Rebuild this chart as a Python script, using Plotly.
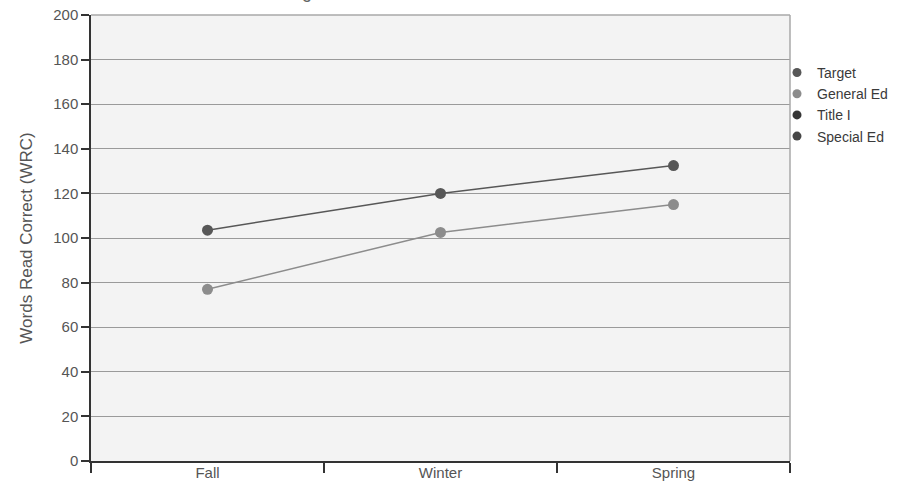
import plotly.graph_objects as go

seasons = ["Fall", "Winter", "Spring"]
series_names = ["Target", "General Ed", "Title I", "Special Ed"]
target = [103.5, 120, 132.5]
general_ed = [77, 102.5, 115]
title_one = [None, None, None]
special_ed = [None, None, None]
y_ticks = [0, 20, 40, 60, 80, 100, 120, 140, 160, 180, 200]

colors = ["#575757", "#8c8c8c", "#353535", "#474747"]
values = [target, general_ed, title_one, special_ed]

fig = go.Figure()
for name, vals, col in zip(series_names, values, colors):
    # the line with its points
    fig.add_trace(go.Scatter(
        x=seasons, y=vals, name=name, mode="lines+markers",
        line=dict(color=col, width=1.5),
        marker=dict(color=col, size=11, symbol="circle"),
        showlegend=False, legendgroup=name,
    ))
    # marker-only key entry
    fig.add_trace(go.Scatter(
        x=[None], y=[None], name=name, mode="markers",
        marker=dict(color=col, size=9, symbol="circle"),
        showlegend=True, legendgroup=name,
    ))

fig.update_layout(
    width=898, height=483,
    margin=dict(l=91, r=108, t=15, b=22, autoexpand=False),
    paper_bgcolor="white",
    plot_bgcolor="#f3f3f3",
    font=dict(family="Liberation Sans, Arial, sans-serif", size=15, color="#555555"),
    showlegend=True,
    legend=dict(
        x=0.9814, y=0.906, xanchor="left", yanchor="top",
        font=dict(size=14, color="#3a3a3a"),
        itemwidth=30, tracegroupgap=0, bgcolor="rgba(0,0,0,0)",
    ),
    annotations=[dict(
        text="Reading Curriculum-Based Measurement Scores",
        xref="paper", yref="paper", x=0.5, y=1, xanchor="center", yanchor="bottom",
        yshift=11, showarrow=False, font=dict(size=18, color="#666666"),
    )],
)

fig.update_xaxes(
    type="category", tickson="boundaries", ticks="outside", ticklen=10,
    tickcolor="#333333", tickwidth=1.5,
    showline=True, linecolor="#333333", linewidth=1.5,
    mirror=False, showgrid=False, zeroline=False,
    ticklabelstandoff=-3, tickfont=dict(size=15, color="#555555"),
    range=[-0.5, 2.5],
)
fig.update_yaxes(
    range=[0, 200], tickvals=y_ticks, ticks="outside", ticklen=8,
    tickcolor="#333333", tickwidth=1.5,
    showline=True, linecolor="#333333", linewidth=1.5,
    showgrid=True, gridcolor="#9a9a9a", gridwidth=1,
    zeroline=False, tickfont=dict(size=15, color="#555555"),
    title=dict(text="Words Read Correct (WRC)", font=dict(size=17, color="#555555"), standoff=16),
)

# light frame on the top and right edges of the plotting area
fig.add_shape(type="line", xref="paper", yref="paper", x0=0, x1=1, y0=1, y1=1,
              line=dict(color="#a8a8a8", width=1.5))
fig.add_shape(type="line", xref="paper", yref="paper", x0=1, x1=1, y0=0, y1=1,
              line=dict(color="#a8a8a8", width=1.5))

fig.write_html("out.html")
